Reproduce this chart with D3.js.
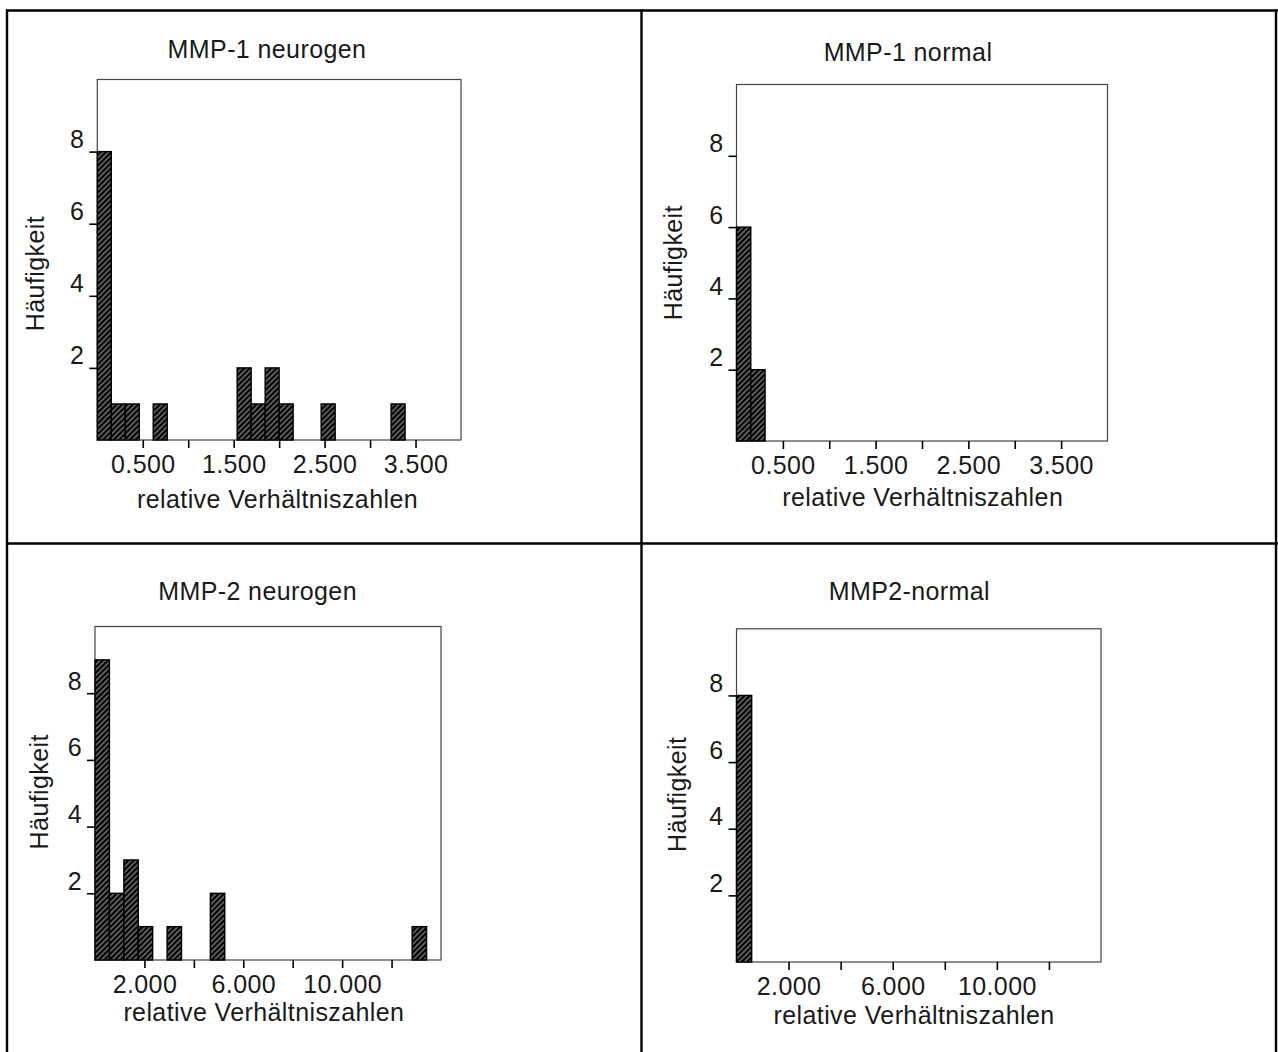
<!DOCTYPE html>
<html>
<head>
<meta charset="utf-8">
<script src="https://cdn.jsdelivr.net/npm/d3@7"></script>
<style>
  body { margin: 0; background: #fff; }
  svg text { font-family: "Liberation Sans", Arial, sans-serif; font-size: 25px; letter-spacing: 0.4px; fill: #1a1a1a; }
</style>
</head>
<body>
<div id="chart"></div>
<script>
// histogram data: lower bin edges and counts per panel
var titles = ["MMP-1 neurogen", "MMP-1 normal", "MMP-2 neurogen", "MMP2-normal"];

var mmp1BinWidth = 0.154,
    mmp2BinWidth = 0.583;

var mmp1NeurogenEdges = [0, 0.154, 0.308, 0.615, 1.538, 1.692, 1.846, 2.0, 2.462, 3.231],
    mmp1NeurogenCounts = [8, 1, 1, 1, 2, 1, 2, 1, 1, 1];

var mmp1NormalEdges = [0, 0.154],
    mmp1NormalCounts = [6, 2];

var mmp2NeurogenEdges = [0, 0.583, 1.167, 1.75, 2.917, 4.667, 12.833],
    mmp2NeurogenCounts = [9, 2, 3, 1, 1, 2, 1];

var mmp2NormalEdges = [0],
    mmp2NormalCounts = [8];

var yTicks = [2, 4, 6, 8];
var mmp1XTicks = [0.5, 1, 1.5, 2, 2.5, 3, 3.5],
    mmp1XLabels = [0.5, 1.5, 2.5, 3.5];
var mmp2XTicks = [2, 4, 6, 8, 10, 12],
    mmp2XLabels = [2, 6, 10];

var yLabel = "Häufigkeit",
    xLabel = "relative Verhältniszahlen";

var panels = [
  {edges: mmp1NeurogenEdges, counts: mmp1NeurogenCounts, bin: mmp1BinWidth, xMax: 4, ticks: mmp1XTicks, labels: mmp1XLabels},
  {edges: mmp1NormalEdges, counts: mmp1NormalCounts, bin: mmp1BinWidth, xMax: 4, ticks: mmp1XTicks, labels: mmp1XLabels},
  {edges: mmp2NeurogenEdges, counts: mmp2NeurogenCounts, bin: mmp2BinWidth, xMax: 14, ticks: mmp2XTicks, labels: mmp2XLabels},
  {edges: mmp2NormalEdges, counts: mmp2NormalCounts, bin: mmp2BinWidth, xMax: 14, ticks: mmp2XTicks, labels: mmp2XLabels}
];

// where each panel sits on the page
var layout = [
  {left: 97.3, right: 461, top: 79.5, bottom: 440, titleX: 267, titleY: 58.3, yLabX: 43.5, yLabY: 273.6, xLabX: 277.5, xLabY: 508.4},
  {left: 736.5, right: 1107.5, top: 84.5, bottom: 441, titleX: 908, titleY: 60.6, yLabX: 682, yLabY: 262.7, xLabX: 922.7, xLabY: 505.7},
  {left: 95, right: 441, top: 626.5, bottom: 960, titleX: 257.6, titleY: 599.7, yLabX: 47.5, yLabY: 791.8, xLabX: 263.9, xLabY: 1020.6},
  {left: 736.5, right: 1101, top: 628.8, bottom: 962, titleX: 909.4, titleY: 599.7, yLabX: 686, yLabY: 794.3, xLabX: 914, xLabY: 1024}
];

var svg = d3.select("#chart").append("svg")
    .attr("width", 1278)
    .attr("height", 1052);

svg.append("rect").attr("width", 1278).attr("height", 1052).attr("fill", "#fff");

// hatch fill of the bars
var defs = svg.append("defs");
var pat = defs.append("pattern")
    .attr("id", "hatch")
    .attr("patternUnits", "userSpaceOnUse")
    .attr("width", 3.8)
    .attr("height", 3.8)
    .attr("patternTransform", "rotate(45)");
pat.append("rect").attr("width", 3.8).attr("height", 3.8).attr("fill", "#000");
pat.append("line")
    .attr("x1", 1.9).attr("y1", 0).attr("x2", 1.9).attr("y2", 3.8)
    .attr("stroke", "#dcdcdc")
    .attr("stroke-width", 0.8);

// table grid
var grid = svg.append("g").attr("stroke", "#000").attr("stroke-width", 2.4);
grid.append("line").attr("x1", 6).attr("x2", 1278).attr("y1", 10.5).attr("y2", 10.5);
grid.append("line").attr("x1", 7).attr("x2", 7).attr("y1", 9.5).attr("y2", 1052);
grid.append("line").attr("x1", 1276).attr("x2", 1276).attr("y1", 9.5).attr("y2", 1052);
grid.append("line").attr("x1", 641.5).attr("x2", 641.5).attr("y1", 9.5).attr("y2", 1052);
grid.append("line").attr("x1", 6).attr("x2", 1278).attr("y1", 543.5).attr("y2", 543.5);

var fmt = d3.format(".3f");

panels.forEach(function(p, i) {
    var L = layout[i];
    var g = svg.append("g");

    var x = d3.scaleLinear().domain([0, p.xMax]).range([L.left, L.right]);
    var y = d3.scaleLinear().domain([0, 10]).range([L.bottom, L.top]);

    var data = p.edges.map(function(e, k) { return {x0: e, count: p.counts[k]}; });

    // plot frame
    g.append("rect")
        .attr("x", L.left)
        .attr("y", L.top)
        .attr("width", L.right - L.left)
        .attr("height", L.bottom - L.top)
        .attr("fill", "none")
        .attr("stroke", "#444")
        .attr("stroke-width", 1.2);

    // bars
    g.selectAll("rect.bar")
        .data(data)
        .enter().append("rect")
        .attr("class", "bar")
        .attr("x", function(d) { return x(d.x0); })
        .attr("width", function(d) { return x(d.x0 + p.bin) - x(d.x0); })
        .attr("y", function(d) { return y(d.count); })
        .attr("height", function(d) { return y(0) - y(d.count); })
        .attr("fill", "url(#hatch)")
        .attr("stroke", "#000")
        .attr("stroke-width", 1.4);

    // x axis
    var xAxis = d3.axisBottom(x)
        .tickValues(p.ticks)
        .tickSize(8)
        .tickFormat(function(d) { return p.labels.indexOf(d) >= 0 ? fmt(d) : ""; });

    var gx = g.append("g")
        .attr("transform", "translate(0," + L.bottom + ")")
        .call(xAxis);
    gx.select(".domain").remove();
    gx.selectAll(".tick line").attr("stroke", "#000").attr("stroke-width", 1.6);
    gx.selectAll(".tick text")
        .attr("y", 32.5)
        .attr("dy", 0)
        .attr("font-size", null)
        .attr("font-family", null);

    // y axis
    var yAxis = d3.axisLeft(y)
        .tickValues(yTicks)
        .tickSize(8)
        .tickPadding(5)
        .tickFormat(d3.format("d"));

    var gy = g.append("g")
        .attr("transform", "translate(" + L.left + ",0)")
        .call(yAxis);
    gy.select(".domain").remove();
    gy.selectAll(".tick line").attr("stroke", "#000").attr("stroke-width", 1.6);
    gy.selectAll(".tick text")
        .attr("dy", -4)
        .attr("font-size", null)
        .attr("font-family", null);

    // texts
    g.append("text")
        .attr("x", L.titleX)
        .attr("y", L.titleY)
        .attr("text-anchor", "middle")
        .text(titles[i]);

    g.append("text")
        .attr("x", L.xLabX)
        .attr("y", L.xLabY)
        .attr("text-anchor", "middle")
        .text(xLabel);

    g.append("text")
        .attr("transform", "translate(" + L.yLabX + "," + L.yLabY + ") rotate(-90)")
        .attr("text-anchor", "middle")
        .text(yLabel);
});
</script>
</body>
</html>
